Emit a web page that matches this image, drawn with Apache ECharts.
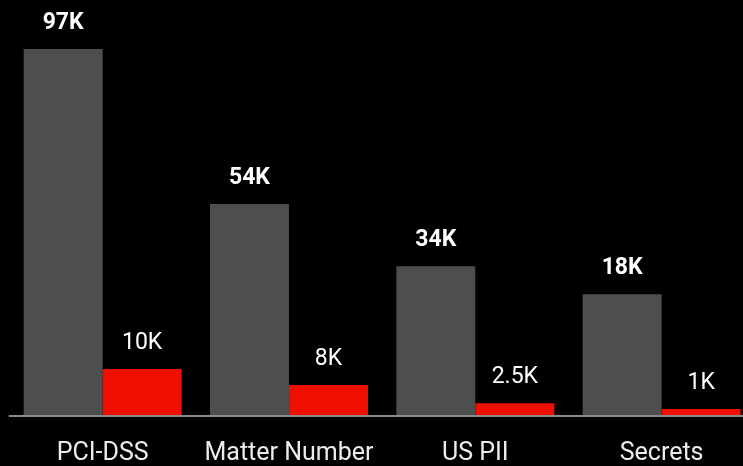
<!DOCTYPE html>
<html>
<head>
<meta charset="utf-8">
<script src="https://cdn.jsdelivr.net/npm/echarts@6/dist/echarts.min.js"></script>
<style>
html,body{margin:0;padding:0;background:#000;}
#c{width:743px;height:466px;}
</style>
</head>
<body>
<div id="c"></div>
<script>
// Categories
const categories = ['PCI-DSS', 'Matter Number', 'US PII', 'Secrets'];
// Bar heights as drawn (in K)
const grayValues = [97, 56, 39.6, 32.2];
const redValues = [12.4, 8.2, 3.4, 1.85];
// Label texts shown above bars
const grayLabels = ['97K', '54K', '34K', '18K'];
const redLabels = ['10K', '8K', '2.5K', '1K'];

const chart = echarts.init(document.getElementById('c'), null, {renderer: 'canvas'});
const FONT = 'Roboto, "Noto Sans", sans-serif';
chart.setOption({
  backgroundColor: '#000000',
  animation: false,
  grid: {left: 9.5, right: -11.8, top: 37.6, bottom: 50, containLabel: false, outerBoundsMode: 'none'},
  xAxis: {
    type: 'category',
    data: categories,
    z: 3,
    axisLine: {show: true, lineStyle: {color: '#8c8c8c', width: 2}},
    axisTick: {show: false},
    axisLabel: {color: '#ececec', fontSize: 25, fontFamily: FONT, margin: 25, interval: 0, hideOverlap: false}
  },
  yAxis: {
    type: 'value',
    min: 0,
    max: 100,
    show: false,
    splitLine: {show: false}
  },
  series: [
    {
      type: 'bar',
      data: grayValues,
      barWidth: 79,
      barGap: '0%',
      itemStyle: {color: '#4d4e50'},
      label: {
        show: true,
        position: 'top',
        distance: 14,
        color: '#ffffff',
        fontSize: 23,
        fontWeight: 'bold',
        fontFamily: FONT,
        formatter: p => grayLabels[p.dataIndex]
      }
    },
    {
      type: 'bar',
      data: redValues,
      barWidth: 79,
      barGap: '0%',
      itemStyle: {color: '#ee0f00'},
      label: {
        show: true,
        position: 'top',
        distance: 14,
        color: '#ffffff',
        fontSize: 23,
        fontFamily: FONT,
        formatter: p => redLabels[p.dataIndex]
      }
    }
  ]
});
</script>
</body>
</html>
